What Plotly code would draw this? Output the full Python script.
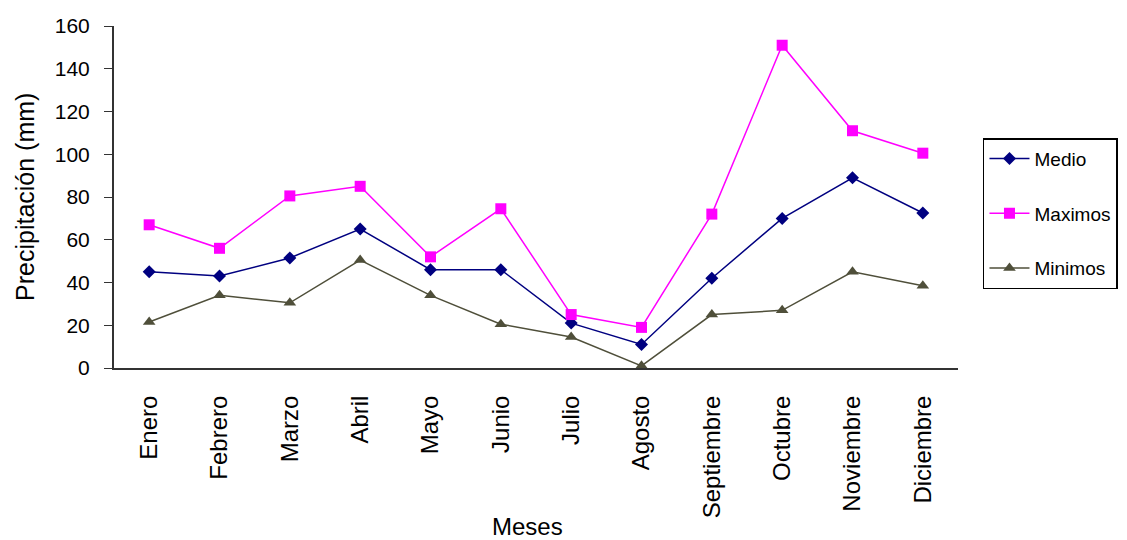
import plotly.graph_objects as go

meses = ["Enero", "Febrero", "Marzo", "Abril", "Mayo", "Junio", "Julio",
         "Agosto", "Septiembre", "Octubre", "Noviembre", "Diciembre"]
medio = [45, 43, 51.5, 65, 46, 46, 21, 11, 42, 70, 89, 72.5]
maximos = [67, 56, 80.5, 85, 52, 74.5, 25, 19, 72, 151, 111, 100.5]
minimos = [21.5, 34, 30.5, 50.5, 34, 20.5, 14.5, 1, 25, 27, 45, 38.5]
y_ticks = [0, 20, 40, 60, 80, 100, 120, 140, 160]

FONT = "Liberation Sans, Arial, sans-serif"

fig = go.Figure()
fig.add_trace(go.Scatter(x=meses, y=medio, name="Medio", mode="lines+markers",
                         legendgroup="a",
                         line=dict(color="#000080", width=1.5),
                         marker=dict(symbol="diamond", size=10, color="#000080")))
fig.add_trace(go.Scatter(x=meses, y=maximos, name="Maximos", mode="lines+markers",
                         legendgroup="b",
                         line=dict(color="#FF00FF", width=1.5),
                         marker=dict(symbol="square", size=11, color="#FF00FF")))
fig.add_trace(go.Scatter(x=meses, y=minimos, name="Minimos", mode="lines+markers",
                         legendgroup="c",
                         line=dict(color="#4F4F3A", width=1.5),
                         marker=dict(symbol="triangle-up", size=11, color="#4F4F3A")))

fig.update_layout(
    width=1127, height=540,
    margin=dict(l=106, r=177, t=18, b=180, autoexpand=False),
    paper_bgcolor="white", plot_bgcolor="white",
    font=dict(family=FONT, color="black", size=18),
    legend=dict(x=1.0296, y=0.672, xanchor="left", yanchor="top",
                bordercolor="black", borderwidth=1.5,
                font=dict(size=19), tracegroupgap=27,
                itemwidth=40),
    showlegend=True,
    annotations=[
        dict(text="Meses", xref="paper", yref="paper", x=0.49, y=-0.462,
             xanchor="center", yanchor="middle", showarrow=False,
             font=dict(size=24, family=FONT)),
        dict(text="Precipitación (mm)", xref="paper", yref="paper", x=-0.1055, y=0.5,
             xanchor="center", yanchor="middle", textangle=-90, showarrow=False,
             font=dict(size=25, family=FONT)),
    ],
)
fig.update_xaxes(type="category", showline=True, linecolor="#333333", linewidth=2,
                 ticks="", tickangle=-90, tickfont=dict(size=24),
                 ticklabelstandoff=16,
                 showgrid=False, range=[-0.5, 11.5])
fig.update_yaxes(range=[0, 160], tickvals=y_ticks, showline=True, linecolor="#333333",
                 linewidth=2, ticks="outside", ticklen=8, tickcolor="#333333",
                 ticklabelstandoff=10,
                 tickfont=dict(size=21), showgrid=False, zeroline=False)

fig.write_html("out.html")
